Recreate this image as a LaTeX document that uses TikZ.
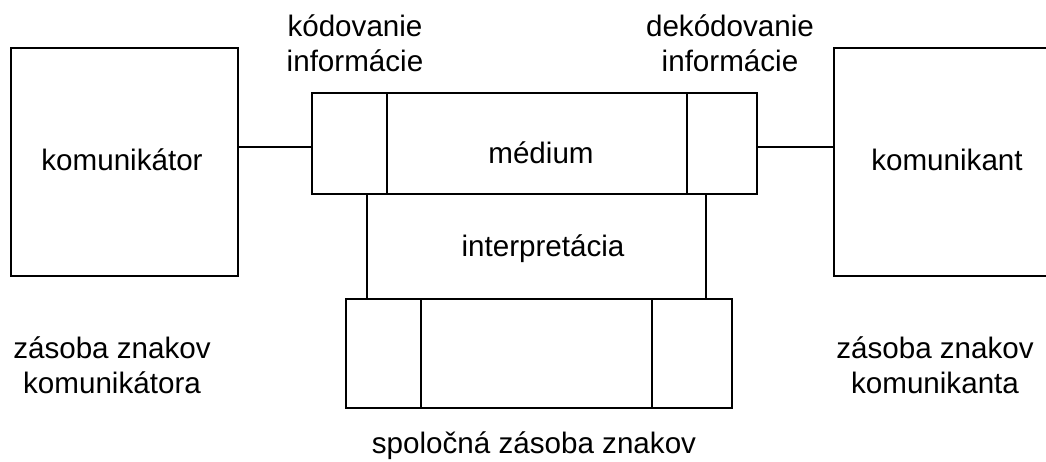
\documentclass[tikz,border=0pt]{standalone}
\usepackage{fontspec}
\setmainfont{Liberation Sans}
\begin{document}
\begin{tikzpicture}[x=1pt,y=-1pt,
  box/.style={draw, line width=2pt, rectangle, inner sep=0pt, outer sep=0pt},
  lbl/.style={font=\fontsize{29.6}{35}\selectfont, inner sep=0pt, anchor=base, align=center},
  conn/.style={line width=2pt}]
\useasboundingbox (0,0) rectangle (1046,461);
\clip (0,0) rectangle (1046,461);
% boxes
\node[box, minimum width=227pt, minimum height=228pt] (kom) at (124.5,162) {};
\node[box, minimum width=226pt, minimum height=228pt] (kant) at (947,162) {};
\node[box, minimum width=445pt, minimum height=101pt] (med) at (534.5,143.5) {};
\node[inner sep=0pt, minimum width=339pt, minimum height=105pt] (interp) at (536.5,246.5) {};
\node[box, minimum width=386pt, minimum height=109pt] (zas) at (539,353.5) {};
% dividers
\coordinate (md1) at (387,93); \coordinate (md2) at (687,93);
\draw[conn] (md1) -- (md1 |- med.south);
\draw[conn] (md2) -- (md2 |- med.south);
\coordinate (zd1) at (421,299); \coordinate (zd2) at (652,299);
\draw[conn] (zd1) -- (zd1 |- zas.south);
\draw[conn] (zd2) -- (zd2 |- zas.south);
% interpretation sides
\draw[conn] (interp.north west) -- (interp.south west);
\draw[conn] (interp.north east) -- (interp.south east);
% connectors
\draw[conn] ([yshift=-3.5pt]med.west -| kom.east) -- ([yshift=-3.5pt]med.west);
\draw[conn] ([yshift=-3.5pt]med.east) -- ([yshift=-3.5pt]med.east -| kant.west);
% labels
\node[lbl] (tkom) at (122,170) {komunikátor};
\node[lbl] (tkant) at (947,170) {komunikant};
\node[lbl] (tmed) at (541,163) {médium};
\node[lbl] (tint) at (543,256) {interpretácia};
\node[lbl] (tkod) at (355,71) {kódovanie\\informácie};
\node[lbl] (tdek) at (730,71) {dekódovanie\\informácie};
\node[lbl] (tzk) at (112,393) {zásoba znakov\\komunikátora};
\node[lbl] (tzn) at (935,393) {zásoba znakov\\komunikanta};
\node[lbl] (tsp) at (534,453) {spoločná zásoba znakov};
\end{tikzpicture}
\end{document}
